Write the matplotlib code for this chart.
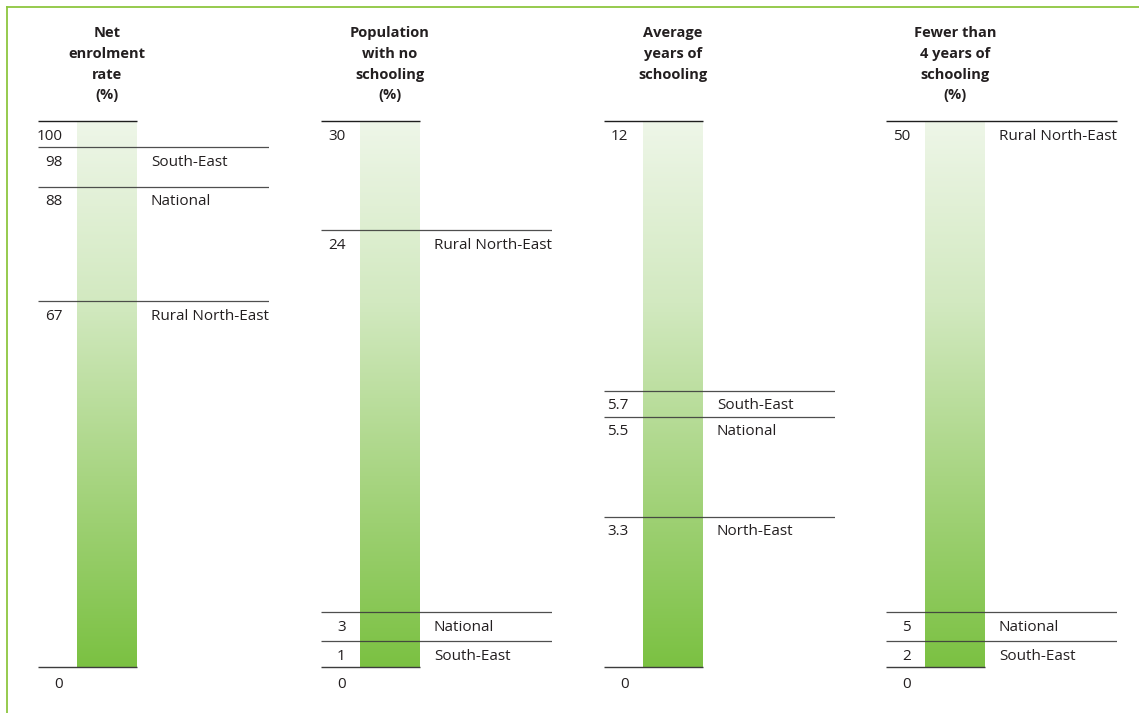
import numpy as np
import matplotlib
matplotlib.use("Agg")
import matplotlib.pyplot as plt
import matplotlib.transforms as mt
from matplotlib.colors import LinearSegmentedColormap
from matplotlib.lines import Line2D

# ---- data -------------------------------------------------------------
titles = [
    "Net\nenrolment\nrate\n(%)",
    "Population\nwith no\nschooling\n(%)",
    "Average\nyears of\nschooling",
    "Fewer than\n4 years of\nschooling\n(%)",
]
scale_max = [100, 30, 12, 50]
max_labels = ["100", "30", "12", "50"]
max_regions = [None, None, None, "Rural North-East"]

net_enrolment = [98, 88, 67]
net_enrolment_regions = ["South-East", "National", "Rural North-East"]

no_schooling = [24, 3, 1]
no_schooling_regions = ["Rural North-East", "National", "South-East"]

avg_years = [5.7, 5.5, 3.3]
avg_years_regions = ["South-East", "National", "North-East"]

fewer_than_4 = [5, 2]
fewer_than_4_regions = ["National", "South-East"]

panel_values = [net_enrolment, no_schooling, avg_years, fewer_than_4]
panel_regions = [net_enrolment_regions, no_schooling_regions,
                 avg_years_regions, fewer_than_4_regions]

# ---- style ------------------------------------------------------------
plt.rcParams["font.family"] = ["Open Sans", "DejaVu Sans"]
TEXT = "#231f20"
LINE = "#3c3c3c"
FRAME = "#8dc63f"
FS = 11
FS_HEAD = 10.5

W, H, DPI = 1139, 713, 100
fig = plt.figure(figsize=(W / DPI, H / DPI), dpi=DPI)

# frame lines along the top and left
fig.add_artist(Line2D([7 / W, 1], [1 - 6.5 / H, 1 - 6.5 / H], color=FRAME, lw=1.3,
                      transform=fig.transFigure))
fig.add_artist(Line2D([7 / W, 7 / W], [0, 1 - 6.5 / H], color=FRAME, lw=1.3,
                      transform=fig.transFigure))

grad = LinearSegmentedColormap.from_list(
    "edu_green", ["#7bc142", "#a6d47f", "#d2e9c0", "#eef6e8"])

X_LEFT, X_RIGHT = -0.65, 3.2      # bar occupies [0, 1]
BAR_PX = 60
bar_lefts = [77, 360, 643, 925]
top_px, bottom_px = 121, 667
GAP = 26 / (bottom_px - top_px)   # minimum spacing between reference lines


def spread(fracs):
    """Keep reference lines at least GAP apart; ends (0 and max) stay fixed."""
    pos = list(fracs)
    n = len(pos)
    for i in range(1, n - 1):
        pos[i] = max(pos[i], pos[i - 1] + GAP)
    for i in range(n - 2, 0, -1):
        pos[i] = min(pos[i], pos[i + 1] - GAP)
    return pos


def fmt(v):
    return f"{v:g}"


for k in range(4):
    vmax = scale_max[k]
    left_px = bar_lefts[k] + X_LEFT * BAR_PX
    width_px = (X_RIGHT - X_LEFT) * BAR_PX
    ax = fig.add_axes([left_px / W, (H - bottom_px) / H, width_px / W,
                       (bottom_px - top_px) / H])
    ax.set_xlim(X_LEFT, X_RIGHT)
    ax.set_ylim(0, vmax)
    ax.axis("off")

    # gradient bar
    g = np.linspace(0, 1, 256).reshape(-1, 1)
    ax.imshow(g, extent=[0, 1, 0, vmax], origin="lower", aspect="auto",
              cmap=grad, interpolation="bicubic", zorder=1)

    vals = panel_values[k]
    regs = panel_regions[k]
    order = sorted(range(len(vals)), key=lambda i: vals[i])
    inner_idx = [i for i in order if vals[i] != vmax]
    fracs = [0.0] + [vals[i] / vmax for i in inner_idx] + [1.0]
    pos = spread(fracs)

    below = mt.offset_copy(ax.transData, fig=fig, x=0, y=-15, units="dots")
    below0 = mt.offset_copy(ax.transData, fig=fig, x=0, y=-17, units="dots")

    # zero line and label
    ax.hlines(0, X_LEFT, 1, color=LINE, lw=1.0, zorder=3, clip_on=False)
    ax.text(-0.24, 0, "0", ha="right", va="center", fontsize=FS, color=TEXT,
            transform=below0)

    # top line
    top_long = max_regions[k] is not None
    ax.hlines(vmax, X_LEFT, X_RIGHT if top_long else 1, color="#1e1e1e",
              lw=1.0, zorder=3, clip_on=False)
    ax.text(-0.24, vmax, max_labels[k], ha="right", va="center", fontsize=FS,
            color=TEXT, transform=below)
    if top_long:
        ax.text(1.23, vmax, max_regions[k], ha="left", va="center", fontsize=FS,
                color=TEXT, transform=below)

    # reference lines for each region
    for j, i in enumerate(inner_idx):
        y = pos[j + 1] * vmax
        ax.hlines(y, X_LEFT, X_RIGHT, color=LINE, lw=0.9, zorder=3, alpha=0.9)
        ax.text(-0.24, y, fmt(vals[i]), ha="right", va="center", fontsize=FS,
                color=TEXT, transform=below)
        ax.text(1.23, y, regs[i], ha="left", va="center", fontsize=FS,
                color=TEXT, transform=below)

    # panel heading
    cx = (bar_lefts[k] + BAR_PX / 2) / W
    fig.text(cx, 1 - 26 / H, titles[k], ha="center", va="top", fontsize=FS_HEAD,
             fontweight="bold", color=TEXT, linespacing=1.62)

fig.savefig("out.png", dpi=DPI)
